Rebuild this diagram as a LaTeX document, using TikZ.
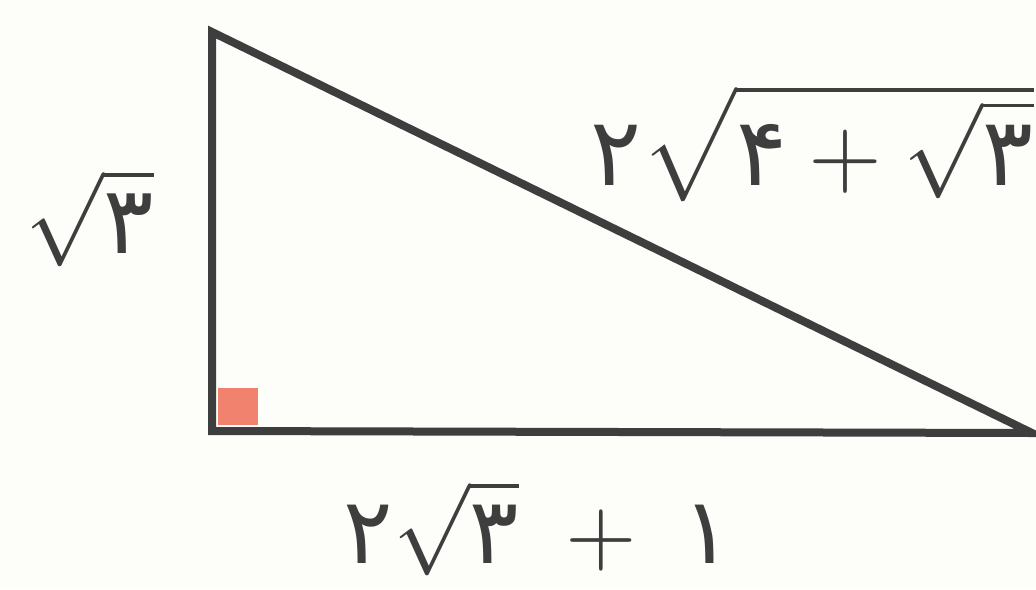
\documentclass[tikz,border=0pt]{standalone}
\usepackage{fontspec}
\usepackage{graphicx}
\newfontfamily\fa[Script=Arabic]{DejaVu Sans}
\definecolor{bg}{HTML}{FDFDFA}
\definecolor{edge}{HTML}{3E3E3E}
\definecolor{anglered}{HTML}{F0826E}
\tikzset{
  side/.style={draw=edge, line width=4pt, line join=miter},
  anglebox/.style={fill=anglered},
  lbl/.style={text=edge, inner sep=0pt},
}
\newcommand{\fd}[1]{\hbox{\fa #1}}
\newcommand{\biglbl}[2][4.6]{\scalebox{#1}{#2}}
\begin{document}
\begin{tikzpicture}[x=0.5pt,y=-0.5pt]
\fill[bg] (0,0) rectangle (1036,589);
\useasboundingbox (0,0) rectangle (1036,589);
\coordinate (A) at (212,32);
\coordinate (B) at (212,431);
\coordinate (C) at (1032,433);
\path[anglebox] (218,388) rectangle (258,425);
\draw[side] (A) -- (B) -- (C) -- cycle;
\node[lbl] (h) at (90,218) {\biglbl[4.7]{$\sqrt{\fd{۳}}$}};
\node[lbl, anchor=east] (hyp) at (1034,143) {\biglbl[4.75]{$\fd{۲}\sqrt{\fd{۴}+\sqrt{\fd{۳}}}$}};
\node[lbl] (b) at (538,528) {\biglbl[4.6]{$\fd{۲}\sqrt{\fd{۳}}\;+\;\fd{۱}$}};
\end{tikzpicture}
\end{document}
